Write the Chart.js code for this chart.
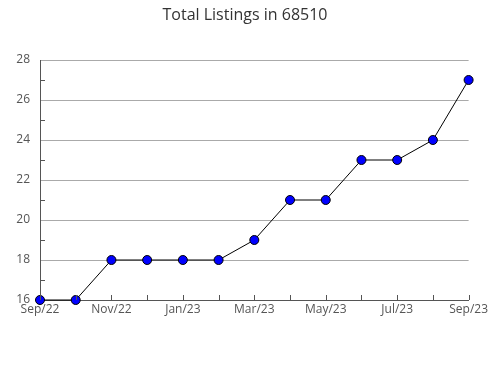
<!DOCTYPE html>
<html>
<head>
<meta charset="utf-8">
<script src="https://cdn.jsdelivr.net/npm/chart.js@4"></script>
<style>
  html, body { margin: 0; padding: 0; background: #fff; }
  #wrap { width: 490px; height: 380px; }
</style>
</head>
<body>
<div id="wrap"><canvas id="chart" width="490" height="380"></canvas></div>
<script>
const title = "Total Listings in 68510";
const months = ["Sep/22", "Oct/22", "Nov/22", "Dec/22", "Jan/23", "Feb/23", "Mar/23",
                "Apr/23", "May/23", "Jun/23", "Jul/23", "Aug/23", "Sep/23"];
const listings = [16, 16, 18, 18, 18, 18, 19, 21, 21, 23, 23, 24, 27];
const yMin = 16;
const yMax = 28;

const axisColor = "#555";
const gridColor = "#aaa";
const font = "'Open Sans', 'DejaVu Sans', sans-serif";

// title + inward tick marks drawn by hand
const decor = {
  id: "decor",
  afterDraw(chart) {
    const ctx = chart.ctx;
    const x = chart.scales.x, y = chart.scales.y;
    ctx.save();
    ctx.strokeStyle = axisColor;
    ctx.lineWidth = 1;
    ctx.beginPath();
    x.ticks.forEach((t, i) => {
      const px = Math.round(x.getPixelForTick(i)) + 0.5;
      ctx.moveTo(px, y.bottom);
      ctx.lineTo(px, y.bottom - 5);
    });
    y.ticks.forEach((t, i) => {
      if (t.value % 2 === 0) return;
      const py = Math.round(y.getPixelForTick(i)) + 0.5;
      ctx.moveTo(x.left, py);
      ctx.lineTo(x.left + 5, py);
    });
    ctx.stroke();
    ctx.fillStyle = "#333";
    ctx.font = "16px " + font;
    ctx.textAlign = "center";
    ctx.textBaseline = "middle";
    ctx.fillText(title, 245, 15);
    ctx.restore();
  }
};

new Chart(document.getElementById("chart"), {
  type: "line",
  data: {
    labels: months,
    datasets: [{
      data: listings,
      borderColor: "#000",
      borderWidth: 1,
      backgroundColor: "#0000ff",
      pointBackgroundColor: "#0000ff",
      pointBorderColor: "#000",
      pointBorderWidth: 1,
      pointRadius: 4.5,
      tension: 0,
      clip: false
    }]
  },
  options: {
    responsive: false,
    animation: false,
    layout: { padding: { top: 60, right: 20, left: 0, bottom: 0 } },
    plugins: { legend: { display: false }, tooltip: { enabled: false } },
    scales: {
      x: {
        type: "category",
        offset: false,
        afterFit: s => { s.height = 80; },
        grid: { display: false, drawTicks: false },
        border: { color: axisColor },
        ticks: {
          autoSkip: false,
          maxRotation: 0,
          padding: 2,
          color: "#555",
          font: { family: font, size: 12 },
          callback: (v, i) => (i % 2 === 0 ? months[i] : "")
        }
      },
      y: {
        min: yMin,
        max: yMax,
        afterFit: s => { s.width = 40; },
        grid: {
          drawTicks: false,
          color: c => (c.tick && c.tick.value % 2 === 0 ? gridColor : "rgba(0,0,0,0)")
        },
        border: { color: axisColor },
        ticks: {
          stepSize: 1,
          padding: 10,
          color: "#555",
          font: { family: font, size: 12 },
          callback: v => (v % 2 === 0 ? v : "")
        }
      }
    }
  },
  plugins: [decor]
});
</script>
</body>
</html>
